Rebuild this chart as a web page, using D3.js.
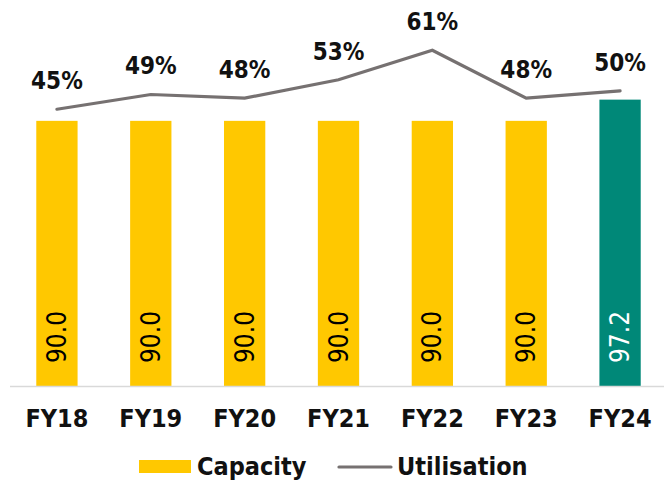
<!DOCTYPE html>
<html>
<head>
<meta charset="utf-8">
<script src="https://cdn.jsdelivr.net/npm/d3@7"></script>
<style>
  body { margin: 0; background: #fff; }
  svg { display: block; font-family: "DejaVu Sans Condensed", "DejaVu Sans", sans-serif; }
</style>
</head>
<body>
<svg></svg>
<script>
let years = ["FY18", "FY19", "FY20", "FY21", "FY22", "FY23", "FY24"];
let capacity = [90.0, 90.0, 90.0, 90.0, 90.0, 90.0, 97.2];
let utilisation = [45, 49, 48, 53, 61, 48, 50];
let barColors = ["#FFC800", "#FFC800", "#FFC800", "#FFC800", "#FFC800", "#FFC800", "#008878"];
let labelColors = ["#000", "#000", "#000", "#000", "#000", "#000", "#fff"];

let width = 664;
let height = 481;
let svg = d3.select("svg").attr("width", width).attr("height", height);

let x = d3.scaleBand().domain(years).range([10, 667]).paddingInner(0.56).paddingOuter(0.28);
let y = d3.scaleLinear().domain([0, 130]).range([386, 3]);
let yU = d3.scaleLinear().domain([-30, 70]).range([386, 17]);

// bars
svg.append("g")
  .selectAll("rect")
  .data(capacity)
  .join("rect")
  .attr("x", (d, i) => x(years[i]))
  .attr("y", (d) => y(d))
  .attr("width", x.bandwidth())
  .attr("height", (d) => y(0) - y(d))
  .style("fill", (d, i) => barColors[i]);

// axis line
svg.append("line")
  .attr("x1", 10).attr("x2", 664)
  .attr("y1", y(0) + 0.5).attr("y2", y(0) + 0.5)
  .style("stroke", "#d9d9d9")
  .style("stroke-width", 1.5);

// bar value labels (rotated)
svg.append("g")
  .selectAll("text")
  .data(capacity)
  .join("text")
  .attr("transform", (d, i) => `translate(${x(years[i]) + x.bandwidth() / 2 + 9},${y(0) - 49}) rotate(-90)`)
  .attr("text-anchor", "middle")
  .style("font-size", "26px")
  .style("fill", (d, i) => labelColors[i])
  .text((d) => d.toFixed(1));

// category labels
svg.append("g")
  .selectAll("text")
  .data(years)
  .join("text")
  .attr("x", (d) => x(d) + x.bandwidth() / 2)
  .attr("y", 427)
  .attr("text-anchor", "middle")
  .style("font-size", "25px")
  .style("font-weight", "bold")
  .style("fill", "#111")
  .text((d) => d);

// utilisation line
let line = d3.line()
  .x((d, i) => x(years[i]) + x.bandwidth() / 2)
  .y((d) => yU(d));

svg.append("path")
  .datum(utilisation)
  .attr("d", line)
  .style("fill", "none")
  .style("stroke", "#767171")
  .style("stroke-width", 3.2)
  .style("stroke-linecap", "round");

svg.append("g")
  .selectAll("text")
  .data(utilisation)
  .join("text")
  .attr("x", (d, i) => x(years[i]) + x.bandwidth() / 2)
  .attr("y", (d) => yU(d) - 20)
  .attr("text-anchor", "middle")
  .style("font-size", "24px")
  .style("font-weight", "bold")
  .style("fill", "#111")
  .text((d) => `${d}%`);

// legend
let legend = svg.append("g");
legend.append("rect")
  .attr("x", 139).attr("y", 460)
  .attr("width", 52).attr("height", 13)
  .style("fill", "#FFC800");
legend.append("text")
  .attr("x", 197).attr("y", 475)
  .style("font-size", "25px")
  .style("font-weight", "bold")
  .style("fill", "#111")
  .text("Capacity");
legend.append("line")
  .attr("x1", 339).attr("x2", 391)
  .attr("y1", 467).attr("y2", 467)
  .style("stroke", "#767171")
  .style("stroke-width", 3.2)
  .style("stroke-linecap", "round");
legend.append("text")
  .attr("x", 397).attr("y", 475)
  .style("font-size", "25px")
  .style("font-weight", "bold")
  .style("fill", "#111")
  .text("Utilisation");
</script>
</body>
</html>
